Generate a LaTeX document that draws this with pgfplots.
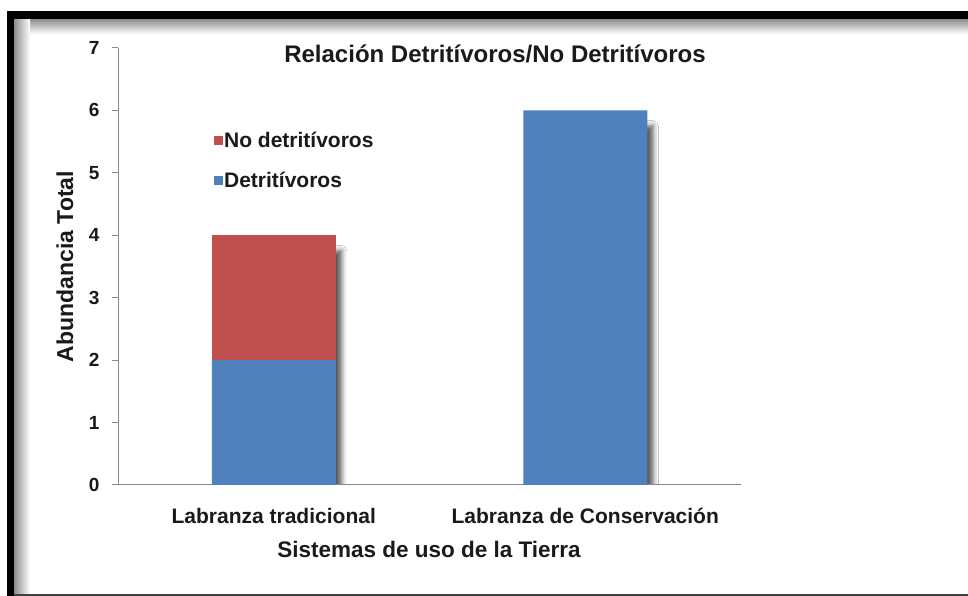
\documentclass[border=0pt]{standalone}
\usepackage{fontspec}
\setmainfont{Liberation Sans}
\usepackage{pgfplots}
\pgfplotsset{compat=1.18}
\usetikzlibrary{shadows.blur}
\definecolor{barblue}{HTML}{4F81BD}
\definecolor{barred}{HTML}{C0504D}
\definecolor{axgray}{HTML}{868686}
\definecolor{txt}{HTML}{1A1A1A}
\pgfplotsset{
  geom/.style={
    scale only axis, width=623pt, height=437pt,
    at={(118pt,111pt)}, anchor=south west,
    xmin=-0.5, xmax=1.5, ymin=0, ymax=7,
  }
}
\begin{document}
\begin{tikzpicture}[x=1pt,y=1pt]
\useasboundingbox (0,0) rectangle (968,596);
\fill[white] (0,0) rectangle (968,596);
% frame with inner shadow
\shade[top color=black!45, bottom color=white] (14,562) rectangle (968,577);
\shade[left color=black!45, right color=white] (14,0) rectangle (30,577);
\fill[black] (7,577) rectangle (968,585);
\fill[black] (7,0) rectangle (14,585);
\fill[black!75] (14,0) rectangle (968,1.5);

% shadow layer
\begin{axis}[geom, hide axis, ybar, bar width=120pt, bar shift=0pt]
\addplot[fill=white, draw=none, blur shadow={shadow xshift=8pt, shadow yshift=-9pt, shadow blur radius=5pt, shadow opacity=65}] coordinates {(0,3.9) (1,5.9)};
\end{axis}

\begin{axis}[geom,
  ybar stacked, bar width=124pt,
  axis lines*=left,
  axis line style={axgray, line width=1pt},
  every tick/.style={axgray, line width=1pt},
  tick align=outside,
  major tick length=6pt,
  minor tick length=8pt,
  xtick={0,1}, xticklabels={Labranza tradicional, Labranza de Conservación},
  x tick style={draw=none},
  minor xtick={-0.5,0.5,1.5},
  minor x tick style={axgray, line width=1pt},
  ytick={0,1,...,7},
  /pgf/number format/assume math mode=true,
  yticklabel style={font=\fontsize{19}{19}\selectfont\bfseries, text=txt, xshift=-9pt},
  xticklabel style={font=\fontsize{21}{21}\selectfont\bfseries, text=txt, anchor=base, yshift=-33pt},
  xlabel={Sistemas de uso de la Tierra},
  ylabel={Abundancia Total},
  every axis x label/.style={at={(axis description cs:0.4992,-0.1648)}, anchor=base, font=\fontsize{22.5}{22.5}\selectfont\bfseries, text=txt},
  every axis y label/.style={at={(axis description cs:-0.0722,0.5)}, anchor=base, rotate=90, font=\fontsize{23}{23}\selectfont\bfseries, text=txt},
  reverse legend,
  legend cell align=left,
  legend style={at={(axis description cs:0.154,0.809)}, anchor=north west, draw=none, fill=none, inner sep=0pt, row sep=23pt,
    font=\fontsize{21}{21}\selectfont\bfseries, text=txt,
    nodes={inner sep=1pt, text height=15pt, text depth=0pt}},
]
\addplot[fill=barblue, draw=none, legend image code/.code={\fill[barblue] (0pt,-4.5pt) rectangle (9pt,4.5pt);}] coordinates {(0,2) (1,6)};
\addlegendentry{Detritívoros}
\addplot[fill=barred, draw=none, legend image code/.code={\fill[barred] (0pt,-4.5pt) rectangle (9pt,4.5pt);}] coordinates {(0,2)};
\addlegendentry{No detritívoros}
\end{axis}

\node[anchor=base, font=\fontsize{24}{24}\selectfont\bfseries, text=txt] at (495,533) {Relación Detritívoros/No Detritívoros};
\end{tikzpicture}
\end{document}
